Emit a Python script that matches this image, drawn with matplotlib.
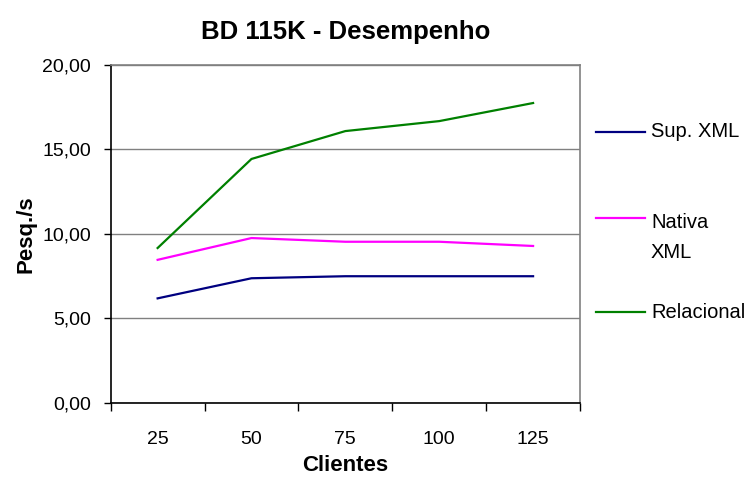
import matplotlib
matplotlib.use("Agg")
import matplotlib.pyplot as plt
from matplotlib.lines import Line2D
from matplotlib.ticker import FixedLocator, FuncFormatter

plt.rcParams['font.family'] = ['Liberation Sans', 'DejaVu Sans']

# === dados ===
clientes = ["25", "50", "75", "100", "125"]
sup_xml = [6.19, 7.38, 7.50, 7.50, 7.50]
nativa_xml = [8.47, 9.76, 9.54, 9.54, 9.29]
relacional = [9.17, 14.44, 16.09, 16.68, 17.75]

series = [
    ("Sup. XML", sup_xml, "#000080"),
    ("Nativa\nXML", nativa_xml, "#FF00FF"),
    ("Relacional", relacional, "#008000"),
]

fig = plt.figure(figsize=(7.52, 4.78), dpi=100)
ax = fig.add_axes([0.1472, 0.157, 0.6241, 0.707])

x = list(range(1, len(clientes) + 1))
for nome, vals, cor in series:
    ax.plot(x, vals, color=cor, linewidth=1.6, solid_joinstyle="miter")

ax.set_xlim(0.5, len(clientes) + 0.5)
ax.set_ylim(0, 20)

# eixo y
ax.set_yticks([0, 5, 10, 15, 20])
ax.yaxis.set_major_formatter(FuncFormatter(lambda v, p: f"{v:.2f}".replace(".", ",")))
ax.yaxis.grid(True, color="#808080", linewidth=1)
ax.set_axisbelow(True)

# eixo x: ticks nas fronteiras das categorias
ax.xaxis.set_major_locator(FixedLocator([i + 0.5 for i in range(0, len(clientes) + 1)]))
ax.xaxis.set_major_formatter(FuncFormatter(lambda v, p: ""))
ax.set_xticks(x, minor=True)
ax.set_xticklabels(clientes, minor=True)
ax.tick_params(axis="x", which="minor", length=0, pad=20, labelsize=14)
ax.tick_params(axis="x", which="major", length=6, width=1, direction="out")
ax.tick_params(axis="y", length=5, width=1, direction="out", pad=9, labelsize=14)

for s in ["top", "right"]:
    ax.spines[s].set_color("#808080")
    ax.spines[s].set_linewidth(1.2)
for s in ["left", "bottom"]:
    ax.spines[s].set_color("black")
    ax.spines[s].set_linewidth(1.2)

ax.set_title("BD 115K - Desempenho", fontsize=18.5, fontweight="bold", pad=19)
ax.set_xlabel("Clientes", fontsize=16, fontweight="bold", labelpad=5)
ax.set_ylabel("Pesq./s", fontsize=16, fontweight="bold", labelpad=4)

# legenda manual (sem moldura, como no Excel)
W, H = 752, 478
leg_y = [131.7, 218.3, 312]
txt_y = [131.7, 237.5, 312]
for (nome, vals, cor), yy, ty in zip(series, leg_y, txt_y):
    fy = 1 - yy / H
    fig.add_artist(Line2D([596 / W, 645 / W], [fy, fy], color=cor, linewidth=1.6))
    fig.text(651 / W, 1 - ty / H, nome, fontsize=14.5, va="center",
             ha="left", linespacing=1.75, transform=fig.transFigure)

fig.savefig("out.png", dpi=100)
